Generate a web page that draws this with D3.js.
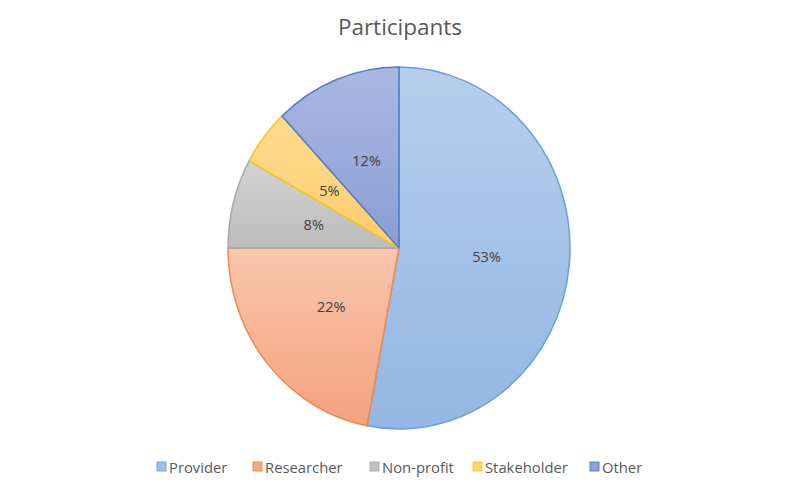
<!DOCTYPE html>
<html><head><meta charset="utf-8">
<script src="https://cdn.jsdelivr.net/npm/d3@7"></script>
<style>body{margin:0;background:#fff;}svg{display:block;}</style>
</head><body>
<svg id="chart" width="800" height="493"></svg>
<script>
const categories = ["Provider", "Researcher", "Non-profit", "Stakeholder", "Other"];
const values = [53, 22, 8, 5, 12];
const labels = ["53%", "22%", "8%", "5%", "12%"];
const title = "Participants";

const fillTop = ["#b5cfec", "#f9c6ac", "#d3d3d3", "#ffdb91", "#a9b7e2"];
const fillBottom = ["#93b6e2", "#f4a27e", "#bcbcbc", "#ffcd6c", "#8a9ed6"];
const strokes = ["#6b9fd6", "#ef8a4a", "#a8a8a8", "#ffc41a", "#4f7cc8"];
const legendSwatch = ["#9dc0e8", "#f5a882", "#c0c0c0", "#ffd36e", "#8ea0d8"];
const legendStroke = ["#5b9bd5", "#ed7d31", "#a5a5a5", "#ffc000", "#4472c4"];

const svg = d3.select("#chart");
const cx = 399, cy = 248, R = 171, sy = 181 / 171;
const font = "'Open Sans', Lato, sans-serif";

const defs = svg.append("defs");
categories.forEach((c, i) => {
  const g = defs.append("linearGradient").attr("id", "g" + i)
    .attr("x1", 0).attr("y1", 0).attr("x2", 0).attr("y2", 1);
  g.append("stop").attr("offset", "0%").attr("stop-color", fillTop[i]);
  g.append("stop").attr("offset", "100%").attr("stop-color", fillBottom[i]);
});

svg.append("text").attr("x", 400).attr("y", 35).attr("text-anchor", "middle")
  .attr("font-family", font).attr("font-size", 22.5).attr("fill", "#595959").text(title);

const pie = d3.pie().sort(null).value(d => d)(values);
const arc = d3.arc().innerRadius(0).outerRadius(R);
const labelArc = d3.arc().innerRadius(88).outerRadius(88);

const g = svg.append("g").attr("transform", `translate(${cx},${cy}) scale(1,${sy})`);
g.selectAll("path").data(pie).join("path")
  .attr("d", arc)
  .attr("fill", (d, i) => `url(#g${i})`)
  .attr("stroke", (d, i) => strokes[i])
  .attr("stroke-width", 1.5)
  .attr("vector-effect", "non-scaling-stroke")
  .attr("stroke-linejoin", "round");

svg.append("g").attr("transform", `translate(${cx},${cy})`)
  .selectAll("text").data(pie).join("text")
  .attr("transform", d => { const c = labelArc.centroid(d); return `translate(${c[0]},${c[1] * sy})`; })
  .attr("text-anchor", "middle").attr("dy", "0.35em")
  .attr("font-family", font).attr("font-size", 14.5).attr("fill", "#404040")
  .text((d, i) => labels[i]);

// legend
const legendX = [157, 253, 370, 473, 590];
const lg = svg.append("g");
categories.forEach((c, i) => {
  lg.append("rect").attr("x", legendX[i]).attr("y", 462).attr("width", 9).attr("height", 9)
    .attr("fill", legendSwatch[i]).attr("stroke", legendStroke[i]).attr("stroke-width", 0.8);
  lg.append("text").attr("x", legendX[i] + 12).attr("y", 472.5)
    .attr("font-family", font).attr("font-size", 14.8).attr("fill", "#595959").text(c);
});
</script>
</body></html>
